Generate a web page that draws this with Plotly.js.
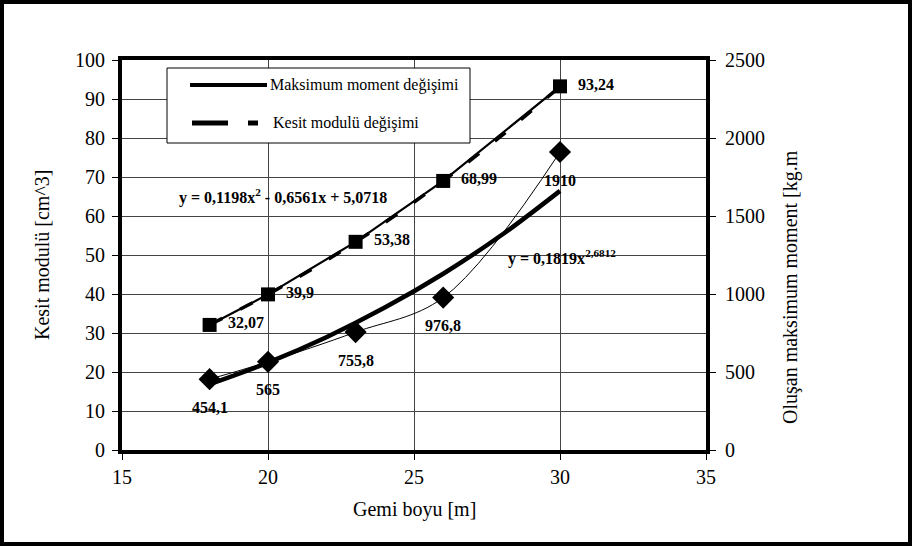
<!DOCTYPE html>
<html>
<head>
<meta charset="utf-8">
<script src="https://cdn.plot.ly/plotly-3.0.1.min.js"></script>
<style>
  html, body { margin: 0; padding: 0; background: #fff; }
  #wrap { position: relative; width: 912px; height: 546px; }
  #chart { width: 912px; height: 546px; }
  #frame { position: absolute; left: 0; top: 0; width: 912px; height: 546px;
           box-sizing: border-box; border: 4px solid #000; pointer-events: none; }
</style>
</head>
<body>
<div id="wrap"><div id="chart"></div><div id="frame"></div></div>
<script>
// ---- data ----
const gemiBoyu = [18, 20, 23, 26, 30];
const kesitModulu = [32.07, 39.9, 53.38, 68.99, 93.24];
const maksMoment = [454.1, 565, 755.8, 976.8, 1910];
const kesitLabels = ['32,07', '39,9', '53,38', '68,99', '93,24'];
const momentLabels = ['454,1', '565', '755,8', '976,8', '1910'];
const trendX = [18, 20, 22, 24, 26, 28, 30];
const kesitTrend = [32.1, 39.9, 48.6, 58.3, 69.0, 80.6, 93.2];
const momentTrend = [422, 560, 723, 913, 1130, 1378, 1661];
const xTickVals = [15, 20, 25, 30, 35];
const yTickVals = [0, 10, 20, 30, 40, 50, 60, 70, 80, 90, 100];
const y2TickVals = [0, 500, 1000, 1500, 2000, 2500];
const legendNames = ['Maksimum moment değişimi', 'Kesit modulü değişimi'];
const eqKesit = 'y = 0,1198x<sup>2</sup> - 0,6561x + 5,0718';
const eqMoment = 'y = 0,1819x<sup>2,6812</sup>';

// ---- layout helpers (pixel -> paper) ----
const L = 122, R = 206, T = 60, B = 96, W = 912, H = 546;
const PW = W - L - R, PH = H - T - B;
const px = p => (p - L) / PW;
const py = p => (H - B - p) / PH;
const serif = 'Liberation Serif, Times New Roman, serif';

const traces = [
  { x: trendX, y: momentTrend, yaxis: 'y2', mode: 'lines', showlegend: false,
    line: { color: '#000', width: 4.5, shape: 'spline' }, hoverinfo: 'skip' },
  { x: gemiBoyu, y: maksMoment, yaxis: 'y2', mode: 'lines+markers', showlegend: false,
    line: { color: '#000', width: 1, shape: 'spline', smoothing: 1 },
    marker: { symbol: 'diamond', size: 17, color: '#000' } },
  { x: gemiBoyu, y: kesitModulu, mode: 'lines+markers', showlegend: false,
    line: { color: '#000', width: 2.2 },
    marker: { symbol: 'square', size: 14, color: '#000' } },
  { x: trendX, y: kesitTrend, mode: 'lines', showlegend: false,
    line: { color: '#000', width: 3.5, dash: '14px,20px', shape: 'spline' }, hoverinfo: 'skip' }
];

const annotations = [];
gemiBoyu.forEach((x, i) => {
  annotations.push({ x: x, y: kesitModulu[i], xref: 'x', yref: 'y', text: '<b>' + kesitLabels[i] + '</b>',
    showarrow: false, xanchor: 'left', yanchor: 'middle', xshift: 16, yshift: 2,
    font: { family: serif, size: 16, color: '#000' } });
  annotations.push({ x: x, y: maksMoment[i], xref: 'x', yref: 'y2', text: '<b>' + momentLabels[i] + '</b>',
    showarrow: false, xanchor: 'center', yanchor: 'middle', yshift: -28,
    font: { family: serif, size: 16, color: '#000' } });
});
annotations.push({ x: px(283), y: py(196), xref: 'paper', yref: 'paper', text: '<b>' + eqKesit + '</b>',
  showarrow: false, xanchor: 'center', yanchor: 'middle', font: { family: serif, size: 16, color: '#000' } });
annotations.push({ x: px(562), y: py(257), xref: 'paper', yref: 'paper', text: '<b>' + eqMoment + '</b>',
  showarrow: false, xanchor: 'center', yanchor: 'middle', font: { family: serif, size: 16, color: '#000' } });
// legend texts
annotations.push({ x: px(268), y: py(85), xref: 'paper', yref: 'paper', text: legendNames[0],
  showarrow: false, xanchor: 'left', yanchor: 'middle', font: { family: serif, size: 16, color: '#000' } });
annotations.push({ x: px(271), y: py(123), xref: 'paper', yref: 'paper', text: legendNames[1],
  showarrow: false, xanchor: 'left', yanchor: 'middle', font: { family: serif, size: 16, color: '#000' } });
// axis titles
annotations.push({ x: px(42), y: py(255), xref: 'paper', yref: 'paper', text: 'Kesit modulü [cm^3]',
  showarrow: false, textangle: -90, xanchor: 'center', yanchor: 'middle', font: { family: serif, size: 20, color: '#000' } });
annotations.push({ x: px(790), y: py(287), xref: 'paper', yref: 'paper', text: 'Oluşan maksimum moment [kg.m',
  showarrow: false, textangle: -90, xanchor: 'center', yanchor: 'middle', font: { family: serif, size: 20, color: '#000' } });
annotations.push({ x: px(414), y: py(510), xref: 'paper', yref: 'paper', text: 'Gemi boyu [m]',
  showarrow: false, xanchor: 'center', yanchor: 'middle', font: { family: serif, size: 20, color: '#000' } });

const shapes = [
  { type: 'rect', xref: 'paper', yref: 'paper', x0: px(167), x1: px(470), y0: py(143), y1: py(68),
    line: { color: '#000', width: 1 }, fillcolor: '#fff', layer: 'above' },
  { type: 'line', xref: 'paper', yref: 'paper', x0: px(190), x1: px(267), y0: py(85), y1: py(85),
    line: { color: '#000', width: 4 }, layer: 'above' },
  { type: 'line', xref: 'paper', yref: 'paper', x0: px(192), x1: px(228), y0: py(123), y1: py(123),
    line: { color: '#000', width: 5 }, layer: 'above' },
  { type: 'line', xref: 'paper', yref: 'paper', x0: px(248), x1: px(258), y0: py(123), y1: py(123),
    line: { color: '#000', width: 5 }, layer: 'above' }
];

const tickFont = { family: serif, size: 20, color: '#000' };
const layout = {
  width: W, height: H,
  margin: { l: L, r: R, t: T, b: B },
  paper_bgcolor: '#fff', plot_bgcolor: '#fff',
  showlegend: false,
  xaxis: { range: [15, 35], tickvals: xTickVals, ticktext: xTickVals.map(String),
    showline: true, linewidth: 4, linecolor: '#000', mirror: true,
    ticks: 'outside', ticklen: 6, tickcolor: '#000', tickwidth: 1,
    showgrid: true, gridcolor: '#444', gridwidth: 1, zeroline: false, tickfont: tickFont },
  yaxis: { range: [0, 100], tickvals: yTickVals, ticktext: yTickVals.map(String),
    showline: true, linewidth: 4, linecolor: '#000',
    ticks: 'outside', ticklen: 6, tickcolor: '#000', tickwidth: 1, ticklabelstandoff: 3,
    showgrid: true, gridcolor: '#444', gridwidth: 1, zeroline: false, tickfont: tickFont },
  yaxis2: { range: [0, 2500], tickvals: y2TickVals, ticktext: y2TickVals.map(String),
    overlaying: 'y', side: 'right',
    showline: true, linewidth: 4, linecolor: '#000',
    ticks: 'outside', ticklen: 6, tickcolor: '#000', tickwidth: 1, ticklabelstandoff: 5,
    showgrid: false, zeroline: false, tickfont: tickFont },
  annotations: annotations,
  shapes: shapes
};

Plotly.newPlot('chart', traces, layout, { displayModeBar: false, staticPlot: true });
</script>
</body>
</html>
